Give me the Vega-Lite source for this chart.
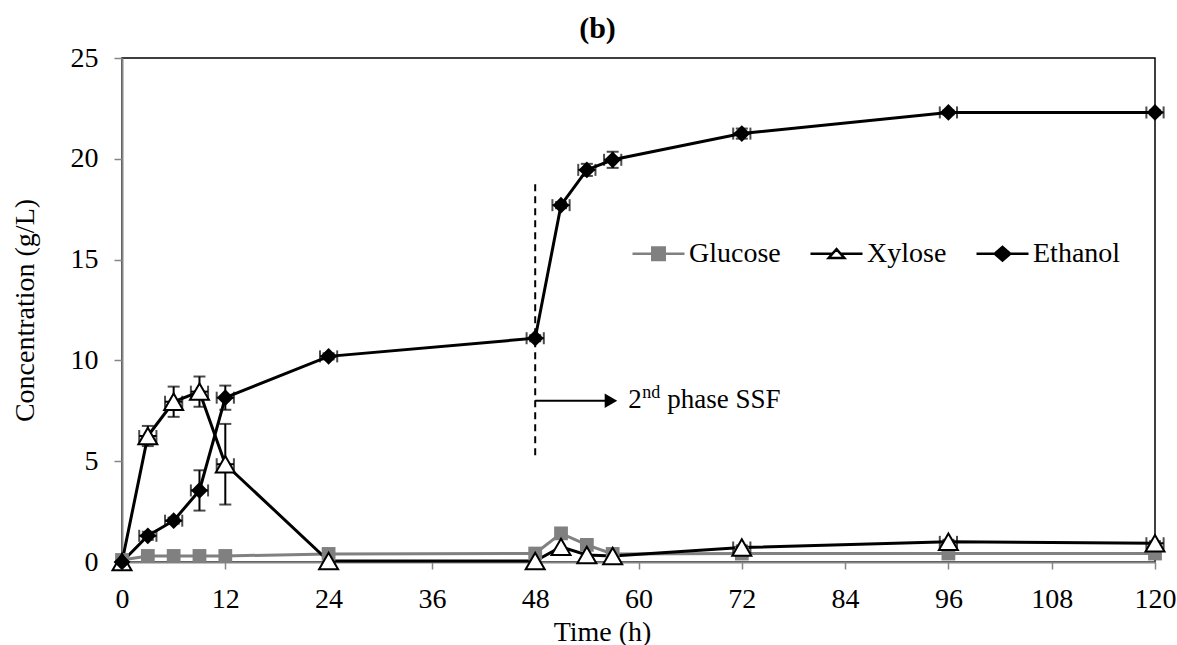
{
  "$schema": "https://vega.github.io/schema/vega-lite/v6.json",
  "autosize": "none",
  "width": 1033,
  "height": 504,
  "padding": {"left": 122, "top": 58, "right": 22, "bottom": 83},
  "background": "white",
  "config": {
    "view": {"stroke": "black", "strokeWidth": 1.5},
    "font": "Liberation Serif",
    "axis": {
      "grid": false,
      "domainColor": "#868686",
      "domainWidth": 2,
      "tickColor": "#868686",
      "tickWidth": 1.5,
      "labelFont": "Liberation Serif",
      "labelFontSize": 28,
      "labelColor": "black",
      "labelFlush": false,
      "titleFont": "Liberation Serif",
      "titleFontSize": 28,
      "titleFontWeight": "normal",
      "titleColor": "black"
    },
    "legend": {
      "labelFont": "Liberation Serif",
      "labelFontSize": 28,
      "labelColor": "black"
    }
  },
  "title": {
    "text": "(b)",
    "font": "Liberation Serif",
    "fontSize": 30,
    "fontWeight": "bold",
    "color": "black",
    "frame": "group",
    "anchor": "middle",
    "dx": -41,
    "offset": 0
  },
  "datasets": {
    "conc": [
      {"series": "Glucose", "t": 0, "v": 0.1, "ve": 0, "te": 0},
      {"series": "Glucose", "t": 3, "v": 0.3, "ve": 0, "te": 0},
      {"series": "Glucose", "t": 6, "v": 0.3, "ve": 0, "te": 0},
      {"series": "Glucose", "t": 9, "v": 0.3, "ve": 0, "te": 0},
      {"series": "Glucose", "t": 12, "v": 0.3, "ve": 0, "te": 0},
      {"series": "Glucose", "t": 24, "v": 0.4, "ve": 0, "te": 0},
      {"series": "Glucose", "t": 48, "v": 0.42, "ve": 0, "te": 0},
      {"series": "Glucose", "t": 51, "v": 1.42, "ve": 0, "te": 0},
      {"series": "Glucose", "t": 54, "v": 0.85, "ve": 0, "te": 0},
      {"series": "Glucose", "t": 57, "v": 0.4, "ve": 0, "te": 0},
      {"series": "Glucose", "t": 72, "v": 0.42, "ve": 0, "te": 0},
      {"series": "Glucose", "t": 96, "v": 0.42, "ve": 0, "te": 0},
      {"series": "Glucose", "t": 120, "v": 0.42, "ve": 0, "te": 0},
      {"series": "Xylose", "t": 0, "v": 0, "ve": 0, "te": 0},
      {"series": "Xylose", "t": 3, "v": 6.25, "ve": 0.5, "te": 1},
      {"series": "Xylose", "t": 6, "v": 7.95, "ve": 0.75, "te": 1},
      {"series": "Xylose", "t": 9, "v": 8.45, "ve": 0.75, "te": 1},
      {"series": "Xylose", "t": 12, "v": 4.85, "ve": 2.0, "te": 1},
      {"series": "Xylose", "t": 24, "v": 0.05, "ve": 0, "te": 0},
      {"series": "Xylose", "t": 48, "v": 0.05, "ve": 0, "te": 0},
      {"series": "Xylose", "t": 51, "v": 0.75, "ve": 0, "te": 0},
      {"series": "Xylose", "t": 54, "v": 0.35, "ve": 0, "te": 0},
      {"series": "Xylose", "t": 57, "v": 0.3, "ve": 0, "te": 0},
      {"series": "Xylose", "t": 72, "v": 0.72, "ve": 0.1, "te": 1},
      {"series": "Xylose", "t": 96, "v": 1.0, "ve": 0.1, "te": 1},
      {"series": "Xylose", "t": 120, "v": 0.93, "ve": 0.1, "te": 1},
      {"series": "Ethanol", "t": 0, "v": 0, "ve": 0, "te": 0},
      {"series": "Ethanol", "t": 3, "v": 1.3, "ve": 0.2, "te": 1},
      {"series": "Ethanol", "t": 6, "v": 2.05, "ve": 0.15, "te": 1},
      {"series": "Ethanol", "t": 9, "v": 3.55, "ve": 1.0, "te": 1},
      {"series": "Ethanol", "t": 12, "v": 8.15, "ve": 0.6, "te": 1},
      {"series": "Ethanol", "t": 24, "v": 10.2, "ve": 0.15, "te": 1},
      {"series": "Ethanol", "t": 48, "v": 11.1, "ve": 0.15, "te": 1},
      {"series": "Ethanol", "t": 51, "v": 17.7, "ve": 0.15, "te": 1},
      {"series": "Ethanol", "t": 54, "v": 19.45, "ve": 0.3, "te": 1},
      {"series": "Ethanol", "t": 57, "v": 19.95, "ve": 0.4, "te": 1},
      {"series": "Ethanol", "t": 72, "v": 21.25, "ve": 0.25, "te": 1},
      {"series": "Ethanol", "t": 96, "v": 22.3, "ve": 0.1, "te": 1},
      {"series": "Ethanol", "t": 120, "v": 22.3, "ve": 0.1, "te": 1}
    ]
  },
  "encoding": {
    "x": {
      "field": "t", "type": "quantitative",
      "scale": {"domain": [0, 120], "nice": false, "zero": false},
      "axis": {
        "values": [0, 12, 24, 36, 48, 60, 72, 84, 96, 108, 120],
        "tickSize": 7,
        "labelPadding": 16,
        "title": "Time (h)",
        "titleX": 480,
        "titleY": 78,
        "titleAlign": "center",
        "titleBaseline": "alphabetic"
      }
    },
    "y": {
      "field": "v", "type": "quantitative",
      "scale": {"domain": [0, 25], "nice": false},
      "axis": {
        "values": [0, 5, 10, 15, 20, 25],
        "tickSize": 8,
        "labelPadding": 16,
        "title": "Concentration (g/L)",
        "titleX": -97,
        "titleY": 252,
        "titleAngle": -90,
        "titleAlign": "center",
        "titleBaseline": "middle"
      }
    }
  },
  "layer": [
    {
      "data": {"values": [{"t": 48, "lo": 5.3, "hi": 18.9}]},
      "mark": {"type": "rule", "color": "black", "strokeWidth": 2, "strokeDash": [7, 5]},
      "encoding": {
        "x": {"field": "t", "type": "quantitative"},
        "y": {"field": "lo", "type": "quantitative"},
        "y2": {"field": "hi"}
      }
    },
    {
      "data": {"values": [{"t0": 48, "t1": 56.3, "v": 8.0}]},
      "mark": {"type": "rule", "color": "black", "strokeWidth": 2},
      "encoding": {
        "x": {"field": "t0", "type": "quantitative"},
        "x2": {"field": "t1"},
        "y": {"field": "v", "type": "quantitative"}
      }
    },
    {
      "data": {"values": [{"t": 56.8, "v": 8.0}]},
      "mark": {"type": "point", "shape": "triangle-right", "filled": true, "color": "black", "opacity": 1, "size": 210},
      "encoding": {
        "x": {"field": "t", "type": "quantitative"},
        "y": {"field": "v", "type": "quantitative"}
      }
    },
    {
      "data": {"values": [{"t": 58.8, "v": 7.64}]},
      "mark": {"type": "text", "text": "2", "align": "left", "baseline": "alphabetic", "font": "Liberation Serif", "fontSize": 27, "color": "black"},
      "encoding": {
        "x": {"field": "t", "type": "quantitative"},
        "y": {"field": "v", "type": "quantitative"}
      }
    },
    {
      "data": {"values": [{"t": 58.8, "v": 7.64}]},
      "mark": {"type": "text", "text": "nd", "align": "left", "baseline": "alphabetic", "dx": 14, "dy": -10, "font": "Liberation Serif", "fontSize": 18, "color": "black"},
      "encoding": {
        "x": {"field": "t", "type": "quantitative"},
        "y": {"field": "v", "type": "quantitative"}
      }
    },
    {
      "data": {"values": [{"t": 58.8, "v": 7.64}]},
      "mark": {"type": "text", "text": "phase SSF", "align": "left", "baseline": "alphabetic", "dx": 39, "font": "Liberation Serif", "fontSize": 27, "color": "black"},
      "encoding": {
        "x": {"field": "t", "type": "quantitative"},
        "y": {"field": "v", "type": "quantitative"}
      }
    },
    {
      "data": {"name": "conc"},
      "mark": {"type": "line", "strokeWidth": 3},
      "encoding": {
        "color": {
          "field": "series", "type": "nominal",
          "scale": {"domain": ["Glucose", "Xylose", "Ethanol"], "range": ["#808080", "#000000", "#000000"]},
          "legend": {
            "orient": "none",
            "legendX": 509,
            "legendY": 168,
            "direction": "horizontal",
            "title": null,
            "padding": 0,
            "symbolType": "stroke",
            "symbolSize": 2704,
            "symbolStrokeWidth": 2.5,
            "labelFont": "Liberation Serif",
            "labelFontSize": 28,
            "labelColor": "black",
            "labelOffset": 3,
            "columnPadding": 24,
            "encode": {
              "symbols": {
                "update": {
                  "shape": {"signal": "datum.value === 'Glucose' ? 'M-1,0H-0.22M0.22,0H1M-0.24,-0.24H0.24V0.24H-0.24Z' : datum.value === 'Xylose' ? 'M-1,0H-0.15M0.15,0H1M0,-0.18L0.3,0.16L-0.3,0.16Z' : 'M-1,0H-0.3M0.3,0H1M0,-0.26L0.3,0L0,0.26L-0.3,0Z'"},
                  "fill": {"signal": "datum.value === 'Glucose' ? '#808080' : datum.value === 'Xylose' ? '#ffffff' : '#000000'"},
                  "stroke": {"signal": "datum.value === 'Glucose' ? '#808080' : '#000000'"},
                  "strokeWidth": {"value": 2.5},
                  "opacity": {"value": 1}
                }
              }
            }
          }
        },
        "order": {"field": "t", "type": "quantitative"}
      }
    },
    {
      "data": {"name": "conc"},
      "transform": [{"filter": "datum.ve > 0"}],
      "mark": {"type": "errorbar", "color": "black", "ticks": {"size": 12, "thickness": 2}, "rule": {"strokeWidth": 2}},
      "encoding": {
        "x": {"field": "t", "type": "quantitative"},
        "y": {"field": "v", "type": "quantitative"},
        "yError": {"field": "ve"}
      }
    },
    {
      "data": {"name": "conc"},
      "transform": [{"filter": "datum.te > 0"}],
      "mark": {"type": "errorbar", "color": "black", "ticks": {"size": 12, "thickness": 2}, "rule": {"strokeWidth": 2}},
      "encoding": {
        "x": {"field": "t", "type": "quantitative"},
        "y": {"field": "v", "type": "quantitative"},
        "xError": {"field": "te"}
      }
    },
    {
      "data": {"name": "conc"},
      "transform": [{"filter": "datum.series === 'Glucose'"}],
      "mark": {"type": "point", "shape": "square", "filled": true, "opacity": 1, "color": "#808080", "size": 190}
    },
    {
      "data": {"name": "conc"},
      "transform": [{"filter": "datum.series === 'Xylose'"}],
      "mark": {"type": "point", "shape": "triangle-up", "opacity": 1, "fill": "#ffffff", "stroke": "#000000", "strokeWidth": 2, "size": 360}
    },
    {
      "data": {"name": "conc"},
      "transform": [{"filter": "datum.series === 'Ethanol'"}],
      "mark": {"type": "point", "shape": "diamond", "filled": true, "opacity": 1, "color": "#000000", "size": 280}
    }
  ]
}
